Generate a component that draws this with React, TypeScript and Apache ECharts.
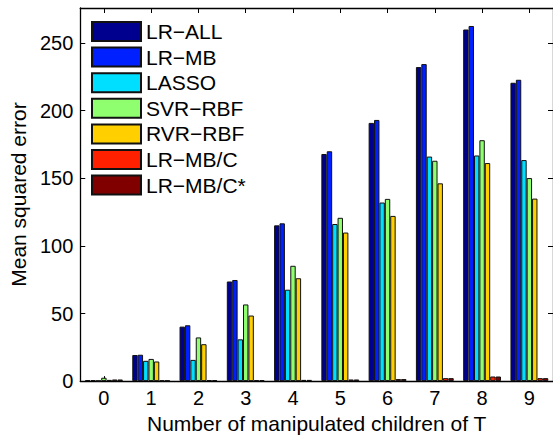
import React, { useEffect, useRef } from "react";
import * as echarts from "echarts";

const categories = ["0", "1", "2", "3", "4", "5", "6", "7", "8", "9"];
const seriesNames = ["LR−ALL", "LR−MB", "LASSO", "SVR−RBF", "RVR−RBF", "LR−MB/C", "LR−MB/C*"];
const colors = ["#00008f", "#0020ff", "#00dfff", "#8fff70", "#ffcf00", "#ff2000", "#800000"];

const lrAll = [0.8, 19.3, 40.3, 73.7, 115.2, 168.0, 191.0, 232.3, 260.1, 220.7];
const lrMb = [0.8, 19.5, 41.3, 74.8, 116.7, 170.0, 193.2, 234.5, 262.7, 222.9];
const lasso = [0.3, 15.0, 15.7, 30.9, 67.6, 116.2, 132.1, 166.1, 166.9, 163.5];
const svrRbf = [2.5, 16.4, 32.3, 56.7, 85.3, 120.8, 134.8, 163.0, 178.2, 150.2];
const rvrRbf = [0.9, 14.5, 27.3, 48.5, 76.1, 109.9, 122.2, 146.3, 161.3, 135.0];
const lrMbC = [1.2, 0.5, 0.8, 0.7, 0.9, 1.2, 1.5, 2.2, 3.4, 2.2];
const lrMbCStar = [1.2, 0.5, 0.8, 0.7, 0.9, 1.2, 1.5, 2.2, 3.4, 2.2];

const allData = [lrAll, lrMb, lasso, svrRbf, rvrRbf, lrMbC, lrMbCStar];

const yTickLabels = [0, 50, 100, 150, 200, 250];

const FONT = "'Liberation Sans', Arial, Helvetica, sans-serif";

export default function App() {
  const ref = useRef<HTMLDivElement>(null);
  useEffect(() => {
    if (!ref.current) return;
    const chart = echarts.init(ref.current, null, { renderer: "svg" });
    const tickStyle = { show: true, inside: true, length: 5, lineStyle: { color: "#000", width: 1 } };
    const axisLine = { show: true, onZero: false, lineStyle: { color: "#000", width: 1.3 } };
    chart.setOption({
      animation: false,
      backgroundColor: "#fff",
      textStyle: { fontFamily: FONT },
      grid: { left: 74, top: 8, right: -4, bottom: 50, containLabel: false },
      legend: {
        orient: "vertical",
        left: 91,
        top: 21,
        itemWidth: 49,
        itemHeight: 19,
        itemGap: 4.6,
        icon: "rect",
        data: seriesNames,
        textStyle: { fontFamily: FONT, fontSize: 21, lineHeight: 19, color: "#000", padding: [0, 0, 0, 0] },
        padding: 0,
        selectedMode: false,
      },
      xAxis: [
        {
          type: "category",
          data: categories,
          position: "bottom",
          boundaryGap: true,
          axisLine,
          axisTick: { ...tickStyle, alignWithLabel: true },
          axisLabel: { fontFamily: FONT, fontSize: 20, color: "#000", margin: 7 },
          splitLine: { show: false },
          name: "Number of manipulated children of T",
          nameLocation: "middle",
          nameGap: 30,
          nameTextStyle: { fontFamily: FONT, fontSize: 21, color: "#000" },
        },
        {
          type: "category",
          data: categories,
          position: "top",
          boundaryGap: true,
          axisLine,
          axisTick: { ...tickStyle, alignWithLabel: true },
          axisLabel: { show: false },
          splitLine: { show: false },
        },
      ],
      yAxis: [
        {
          type: "value",
          min: 0,
          max: 276,
          interval: 50,
          position: "left",
          axisLine,
          axisTick: tickStyle,
          axisLabel: {
            fontFamily: FONT,
            fontSize: 20,
            color: "#000",
            margin: 7,
            showMaxLabel: false,
            formatter: (v: number) => (yTickLabels.includes(v) ? String(v) : ""),
          },
          splitLine: { show: false },
          name: "Mean squared error",
          nameLocation: "middle",
          nameGap: 48,
          nameTextStyle: { fontFamily: FONT, fontSize: 21, color: "#000" },
        },
        {
          type: "value",
          min: 0,
          max: 276,
          interval: 50,
          position: "right",
          axisLine,
          axisTick: tickStyle,
          axisLabel: { show: false },
          splitLine: { show: false },
        },
      ],
      series: seriesNames.map((name, i) => ({
        name,
        type: "bar",
        xAxisIndex: 0,
        yAxisIndex: 0,
        data: allData[i],
        barGap: "0%",
        barCategoryGap: "20%",
        itemStyle: { color: colors[i], borderColor: "#111", borderWidth: 1 },
      })),
    });
    return () => chart.dispose();
  }, []);
  return (
    <div
      ref={ref}
      style={{ position: "fixed", left: 0, top: 0, width: 553, height: 439, background: "#fff" }}
    />
  );
}
